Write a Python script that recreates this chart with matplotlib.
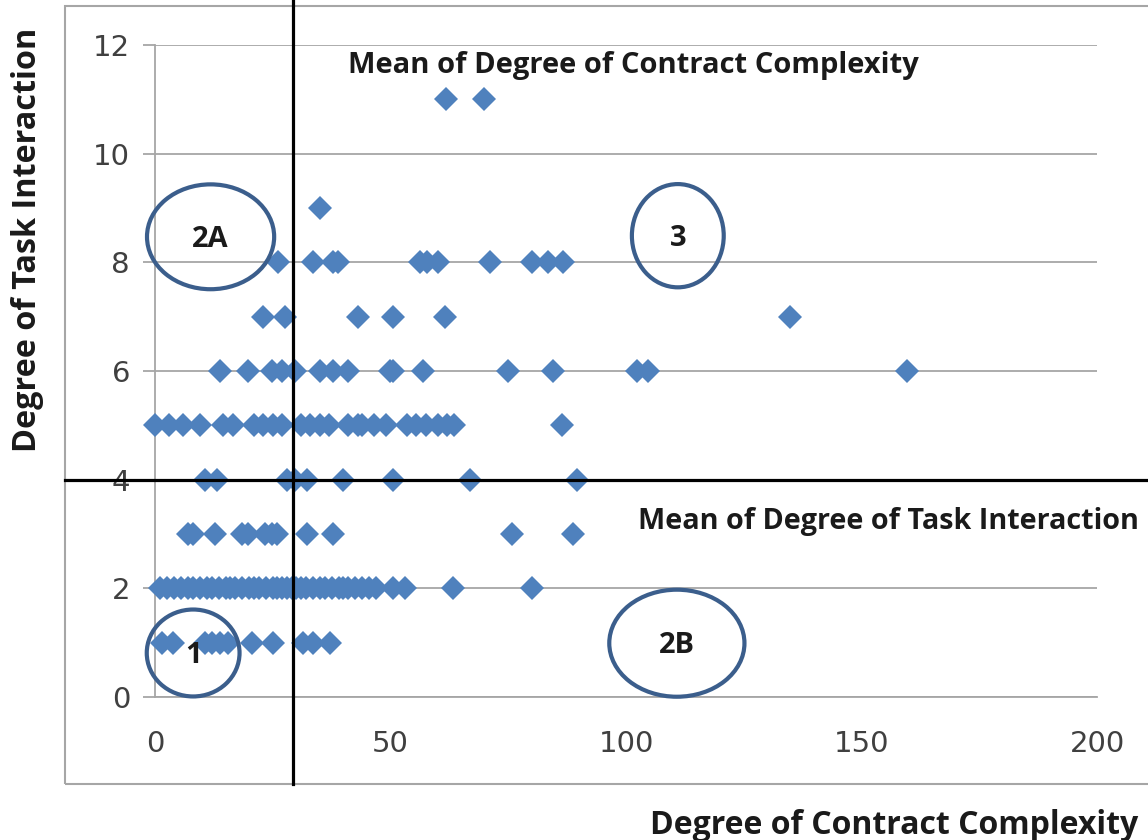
import matplotlib
matplotlib.use("Agg")
import matplotlib.pyplot as plt
from matplotlib.patches import Ellipse, Rectangle
from matplotlib.lines import Line2D

# ---- data ----
x_y1 = [1.5, 3.8, 10.6, 12, 13.8, 15.5, 20.6, 25.1, 31.4, 33.5, 37.2]
x_y2 = [1, 2.5, 4, 5.5, 7, 8, 9.5, 11, 12, 13.5, 15, 16, 17, 18.5, 20, 21, 22,
        23.5, 25, 26, 27, 28, 29, 30, 31, 32, 33.5, 35, 36, 37.5, 39, 40, 41,
        42.5, 44, 45.5, 47, 50.5, 53, 63.3, 80]
x_y3 = [7, 8, 12.7, 18.5, 19.8, 23.4, 24.8, 25.9, 32.3, 37.8, 75.8, 88.8]
x_y4 = [10.6, 13.1, 28, 29.7, 32.2, 40, 50.5, 66.9, 89.6]
x_y5 = [0, 3, 6, 9.5, 14.5, 16.5, 21, 23, 25, 27, 31, 33, 35, 37, 41, 43, 44,
        46.5, 49, 53.5, 55.5, 57.5, 60, 62, 63.5, 86.5]
x_y6 = [13.8, 19.8, 24.8, 27, 29.7, 35, 37.8, 41, 49.9, 50.5, 56.9, 75, 84.5,
        102.3, 104.7, 159.7]
x_y7 = [23, 27.6, 43, 50.5, 61.6, 134.8]
x_y8 = [26.1, 33.6, 37.8, 38.9, 56.3, 57.7, 60, 71.1, 80, 83.4, 86.6]
x_y9 = [35]
x_y11 = [61.8, 69.9]

rows = {1: x_y1, 2: x_y2, 3: x_y3, 4: x_y4, 5: x_y5, 6: x_y6, 7: x_y7,
        8: x_y8, 9: x_y9, 11: x_y11}

mean_complexity = 29.3
mean_interaction = 4.0

x_ticks = [0, 50, 100, 150, 200]
y_ticks = [0, 2, 4, 6, 8, 10, 12]

# quadrant labels: (label, cx, cy, width, height)
quadrants = [("2A", 11.8, 8.47, 27.0, 1.93),
             ("3", 111.0, 8.49, 19.5, 1.90),
             ("1", 8.1, 0.81, 19.7, 1.60),
             ("2B", 110.8, 0.99, 28.7, 1.97)]

FONT = "Open Sans"
W, H = 1148, 840
fig = plt.figure(figsize=(W / 100, H / 100), dpi=100)
ax = fig.add_axes([155 / W, 1 - 697 / H, (1097 - 155) / W, (697 - 45) / H])

xs, ys = [], []
for yv, xl in rows.items():
    xs += xl
    ys += [yv] * len(xl)
ax.plot(xs, ys, linestyle="none", marker="D", markersize=12.5,
        color="#4F81BD", markeredgewidth=0, zorder=3, clip_on=False)

ax.set_xlim(0, 200)
ax.set_ylim(0, 12)
ax.set_xticks(x_ticks)
ax.set_yticks(y_ticks)
ax.yaxis.grid(True, color="#A6A6A6", linewidth=1.3, zorder=0)
ax.set_axisbelow(True)
for s in ["top", "right"]:
    ax.spines[s].set_visible(False)
for s in ["left", "bottom"]:
    ax.spines[s].set_color("#A6A6A6")
    ax.spines[s].set_linewidth(1.3)
ax.tick_params(axis="y", length=9, color="#A6A6A6", width=1.3, pad=9,
               labelsize=21, labelcolor="#404040")
ax.tick_params(axis="x", length=0, pad=24, labelsize=21, labelcolor="#404040")

# outer chart border
fig.patches.append(Rectangle((65 / W, 1 - 784 / H), 1.1, (784 - 6) / H,
                             transform=fig.transFigure, fill=False,
                             edgecolor="#A6A6A6", linewidth=1.5))

# mean lines (extend beyond plot area)
xm = ax.transData.transform((mean_complexity, 0))[0] / W
ym = ax.transData.transform((0, mean_interaction))[1] / H
fig.lines.append(Line2D([xm, xm], [1 - 784 / H, 1.0], transform=fig.transFigure,
                        color="black", linewidth=2.3))
fig.lines.append(Line2D([65 / W, 1.0], [ym, ym], transform=fig.transFigure,
                        color="black", linewidth=2.3))

# quadrant ellipses
for lab, cx, cy, w, h in quadrants:
    ax.add_patch(Ellipse((cx, cy), w, h, fill=False, edgecolor="#3B5E8C",
                         linewidth=3.0, zorder=4, clip_on=False))
    ax.text(cx, cy - 0.05, lab, ha="center", va="center", fontsize=21,
            fontweight="bold", family=FONT, color="#1a1a1a", zorder=5)

ax.text(348 / W, 1 - 65 / H, "Mean of Degree of Contract Complexity",
        transform=fig.transFigure, ha="left", va="center", fontsize=21,
        fontweight="bold", family=FONT, color="#1a1a1a")
ax.text(638 / W, 1 - 521 / H, "Mean of Degree of Task Interaction",
        transform=fig.transFigure, ha="left", va="center", fontsize=20.7,
        fontweight="bold", family=FONT, color="#1a1a1a")

fig.text(650 / W, 1 - 825 / H, "Degree of Contract Complexity",
         ha="left", va="center", fontsize=23, fontweight="bold", family=FONT,
         color="#1a1a1a")
fig.text(28 / W, 1 - 240 / H, "Degree of Task Interaction", rotation=90,
         ha="center", va="center", fontsize=23.3, fontweight="bold",
         family=FONT, color="#1a1a1a")

fig.savefig("out.png", dpi=100)
